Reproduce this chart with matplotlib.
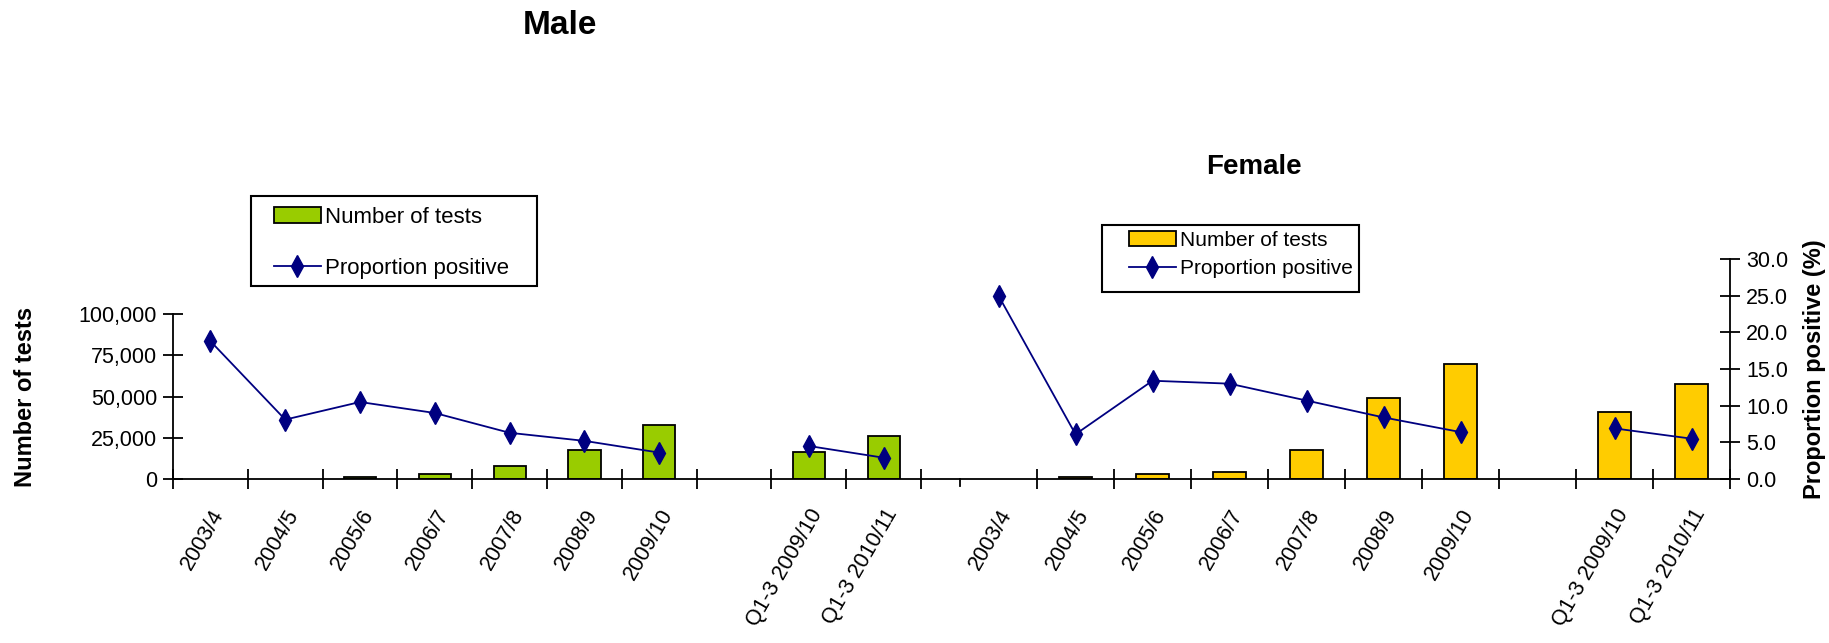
import numpy as np
import matplotlib
matplotlib.use("Agg")
import matplotlib.pyplot as plt
import matplotlib.transforms as mtransforms
from matplotlib.patches import Patch, Rectangle
from matplotlib.lines import Line2D
from matplotlib.ticker import FuncFormatter, FixedLocator

plt.rcParams['font.family'] = ['Liberation Sans', 'DejaVu Sans']

# Data (the empty slot is the gap before the Q1-3 categories)
labels = ['2003/4', '2004/5', '2005/6', '2006/7', '2007/8', '2008/9', '2009/10',
          '', 'Q1-3 2009/10', 'Q1-3 2010/11']

male_tests = [np.nan, np.nan, 1200, 3000, 7900, 17600, 33000, np.nan, 16200, 26200]
male_pos = [18.8, 8.1, 10.5, 9.0, 6.3, 5.2, 3.6, np.nan, 4.5, 2.9]

female_tests = [np.nan, 1200, 3000, 4000, 17600, 48900, 69700, np.nan, 40600, 57400]
female_pos = [25.0, 6.1, 13.4, 13.0, 10.7, 8.4, 6.4, np.nan, 6.9, 5.5]

green = '#99CC00'
yellow = '#FFCC00'
navy = '#000080'

W, H = 1829, 643
fig = plt.figure(figsize=(W / 100, H / 100), dpi=100)

bottom = (H - 479) / H
height = 220 / H
ax_m = fig.add_axes([173 / W, bottom, (960 - 173) / W, height])
ax_f = fig.add_axes([960 / W, bottom, 770 / W, height])

x = np.arange(len(labels))
tick_fs = 15.5
shift = mtransforms.ScaledTranslation(-6 / 100, 0, fig.dpi_scale_trans)


def draw_panel(ax, tests, pos, color, xmax):
    ax.bar(x, tests, width=0.43, color=color, edgecolor='black', linewidth=1.3, zorder=2)
    ax.set_ylim(0, 100000 * 220 / 165)
    ax.set_xlim(-0.5, xmax)
    tw = ax.twinx()
    tw.plot(x, pos, color=navy, lw=1.3, marker='d', markersize=11, zorder=3)
    tw.set_ylim(0, 30)
    for a in (ax, tw):
        a.patch.set_visible(False)
        for s in ('top', 'right', 'left'):
            a.spines[s].set_visible(False)
    tw.spines['bottom'].set_visible(False)
    ax.spines['bottom'].set_linewidth(1.3)
    # boundary ticks and centred labels
    ax.xaxis.set_major_locator(FixedLocator(np.arange(-0.5, 10, 1.0)))
    ax.xaxis.set_major_formatter(FuncFormatter(lambda v, p: ''))
    ax.xaxis.set_minor_locator(FixedLocator(x))
    ax.set_xticklabels(labels, minor=True, rotation=60, ha='right', va='top',
                       rotation_mode='anchor', fontsize=tick_fs)
    for t in ax.get_xticklabels(minor=True):
        t.set_transform(t.get_transform() + shift)
    ax.tick_params(axis='x', which='major', direction='inout', length=15, width=1.3)
    ax.tick_params(axis='x', which='minor', length=0, pad=19)
    tw.set_yticks([])
    return tw


tw_m = draw_panel(ax_m, male_tests, male_pos, green, 10.02)
tw_f = draw_panel(ax_f, female_tests, female_pos, yellow, 9.5)

# Male left axis
ax_m.spines['left'].set_visible(True)
ax_m.spines['left'].set_bounds(0, 100000)
ax_m.spines['left'].set_linewidth(1.3)
ax_m.set_yticks([0, 25000, 50000, 75000, 100000])
ax_m.yaxis.set_major_formatter(FuncFormatter(lambda v, p: f'{v:,.0f}'))
ax_m.tick_params(axis='y', direction='inout', length=15, width=1.3, labelsize=tick_fs, pad=4)

# Female: hide left axis ticks, show right proportion axis
ax_f.set_yticks([])
ax_f.xaxis.set_major_locator(FixedLocator(np.arange(0.5, 10, 1.0)))
tw_f.spines['right'].set_visible(True)
tw_f.spines['right'].set_linewidth(1.3)
tw_f.set_yticks(np.arange(0, 31, 5))
tw_f.yaxis.set_major_formatter(FuncFormatter(lambda v, p: f'{v:.1f}'))
tw_f.tick_params(axis='y', direction='inout', length=15, width=1.3, labelsize=tick_fs, pad=4)
ax_f.axvline(-0.5, ymin=-0.03, ymax=0, color='black', lw=1.3, clip_on=False)

# Titles and axis labels
fig.text(560 / W, 1 - 26 / H, 'Male', ha='center', va='center', fontsize=24, fontweight='bold')
fig.text(1254 / W, 1 - 167 / H, 'Female', ha='center', va='center', fontsize=20, fontweight='bold')
fig.text(26 / W, 1 - 397 / H, 'Number of tests', rotation=90, ha='center', va='center',
         fontsize=17, fontweight='bold')
fig.text(1815 / W, 1 - 369 / H, 'Proportion positive (%)', rotation=90, ha='center', va='center',
         fontsize=17, fontweight='bold')


# Legends: entries without frame, box drawn separately
def make_legend(color, anchor, spacing, size, box):
    handles = [Patch(facecolor=color, edgecolor='black', linewidth=1.3),
               Line2D([0], [0], color=navy, lw=1.3, marker='d', markersize=11)]
    fig.legend(handles, ['Number of tests', 'Proportion positive'],
               loc='upper left', bbox_to_anchor=anchor, bbox_transform=fig.transFigure,
               fontsize=size, frameon=False, labelspacing=spacing,
               handlelength=2.1 * 16 / size, handletextpad=0.2,
               borderpad=0, borderaxespad=0)
    x0, y0, x1, y1 = box
    fig.add_artist(Rectangle((x0 / W, 1 - y1 / H), (x1 - x0) / W, (y1 - y0) / H,
                             transform=fig.transFigure, facecolor='none',
                             edgecolor='black', linewidth=1.5))


make_legend(green, (274 / W, 1 - 207 / H), 1.35, 16, (251, 196, 537, 286))
make_legend(yellow, (1129 / W, 1 - 231 / H), 0.45, 15, (1102, 225, 1359, 292))

fig.savefig('out.png', dpi=100)
